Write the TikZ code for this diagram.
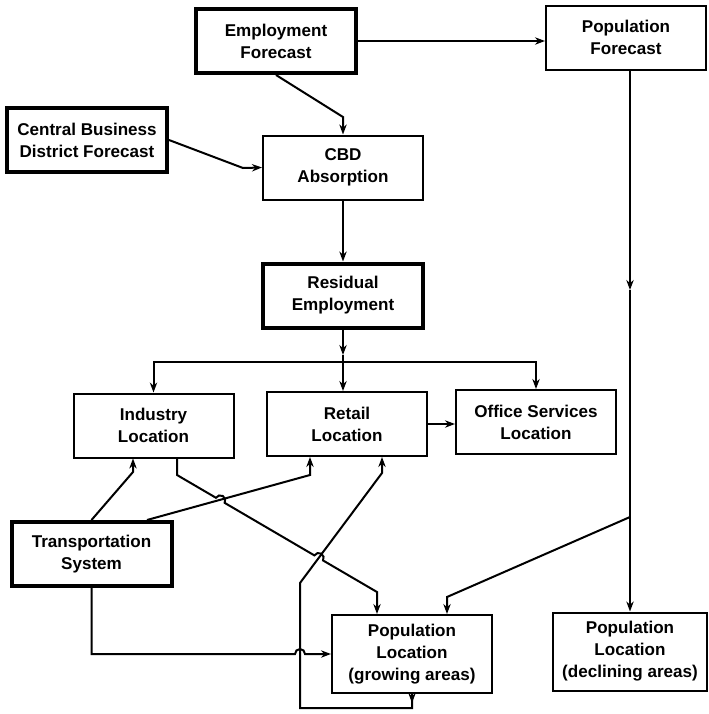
\documentclass[tikz,border=0pt]{standalone}
\usepackage{fontspec}
\setmainfont{Liberation Sans}
\usetikzlibrary{arrows.meta,calc}
\tikzset{>={Stealth[length=7.5pt,width=5.5pt]}}

\begin{document}
\begin{tikzpicture}[x=0.75pt, y=-0.75pt,
                    box/.style={draw, line width=1.5pt, align=center, inner sep=0pt,
                                minimum width=120pt, minimum height=48pt,
                                font=\bfseries\fontsize{12.8}{16.5}\selectfont},
                    heavybox/.style={box, line width=3pt},
                    popbox/.style={box, minimum height=58.5pt},
                    link/.style={line width=1.5pt, ->},
                   ]

\useasboundingbox (0,0) rectangle (708,714);

% boxes
\node[heavybox] (empf) at (276,41) {Employment\\Forecast};
\node[box] (popf) at (626,37.5) {Population\\Forecast};
\node[heavybox] (cbdf) at (87,140) {Central Business\\District Forecast};
\node[box] (cbda) at (343,167.5) {CBD\\Absorption};
\node[heavybox] (resid) at (343,295.5) {Residual\\Employment};
\node[box] (indl) at (153.5,425.5) {Industry\\Location};
\node[box] (retl) at (347,424) {Retail\\Location};
\node[box] (offl) at (536,422) {Office Services\\Location};
\node[heavybox] (trans) at (91.5,554) {Transportation\\System};
\node[popbox] (popg) at (412,654) {Population\\Location\\(growing areas)};
\node[popbox, minimum width=116pt] (popd) at (630,651.5) {Population\\Location\\(declining areas)};

% bends
\coordinate (ec) at (343,117);
\coordinate (cc) at (243,168);
\coordinate (rm) at (343,355);
\coordinate (bus) at (343,362);
\coordinate (pm) at (630,290);
\coordinate (pb) at (630,517);
\coordinate (pg) at (447,597);
\coordinate (ti) at (133,472);
\coordinate (t0) at (147,521);
\coordinate (tr) at (310,475);
\coordinate (ip) at (177,475);
\coordinate (ip2) at (377,592);
\coordinate (lb) at (300,708);
\coordinate (lp) at (300,583);
\coordinate (lr) at (382,473);

% forecasts
\draw[link] (empf.east) -- (empf.east -| popf.west);
\draw[link] (empf.south) -- (ec) -- (cbda.north);
\draw[link] (cbdf.east) -- (cc) -- (cbda.west);
\draw[link] (cbda.south) -- (resid.north);

% residual employment split
\draw[link] (resid.south) -- (rm);
\draw[link] (rm) -- (bus |- retl.north);
\draw[link] (bus) -| (indl.north);
\draw[link] (bus) -| (offl.north);
\draw[link] (retl.east) -- (retl.east -| offl.west);

% population forecast
\draw[link] (popf.south -| pm) -- (pm);
\draw[link] (pm) -- (popd.north);
\draw[link] (pb) -- (pg) -- (pg |- popg.north);

% transportation
\draw[link] (trans.north) -- (ti) -- (ti |- indl.south);
\draw[link] (t0 |- trans.north) -- (tr) -- (tr |- retl.south);
\draw[link] (trans.south) -- (trans.south |- popg.west) -- (295,654)
    arc[start angle=180, end angle=360, radius=5] -- (popg.west);

% industry to growing areas, hopping over two lines
\draw[link] (ip |- indl.south) -- (ip) -- (216.0,497.8)
    arc[start angle=210.33, end angle=390.33, radius=5] -- (314.4,555.4)
    arc[start angle=210.33, end angle=390.33, radius=5] -- (ip2) -- (ip2 |- popg.north);

% feedback to retail
\draw[link] (popg.south) -- ++(0,9);
\draw[link] (popg.south) -- (popg.south |- lb) -- (lb) -- (lp) -- (lr) -- (lr |- retl.south);

\end{tikzpicture}
\end{document}
